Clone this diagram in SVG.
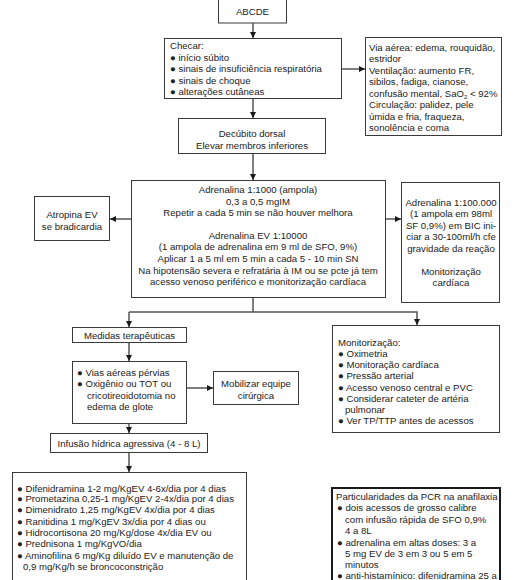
<svg xmlns="http://www.w3.org/2000/svg" width="520" height="580" viewBox="0 0 520 580">
<defs>
<marker id="ah" viewBox="0 0 10 10" refX="10" refY="5" markerWidth="6" markerHeight="6" markerUnits="userSpaceOnUse" orient="auto">
<path d="M0,0 L10,5 L0,10 z" fill="#1a1a1a"/>
</marker>
<style>
.box{fill:#fff;stroke:#3a3a3a;stroke-width:1}
.bold{fill:#fff;stroke:#1a1a1a;stroke-width:2}
text{font-family:"Liberation Sans",Arial,sans-serif;font-size:9.6px;fill:#222}
.c{text-anchor:middle}
.ln{fill:none;stroke:#555;stroke-width:1.5}
</style>
</defs>
<rect width="520" height="580" fill="#fff"/>

<g id="connectors">
<line class="ln" x1="253" y1="23" x2="253" y2="38" marker-end="url(#ah)"/>
<line class="ln" x1="342" y1="69" x2="365" y2="69" marker-end="url(#ah)"/>
<line class="ln" x1="253" y1="99" x2="253" y2="118" marker-end="url(#ah)"/>
<line class="ln" x1="253" y1="154" x2="253" y2="180" marker-end="url(#ah)"/>
<line class="ln" x1="131" y1="219" x2="110" y2="219" marker-end="url(#ah)"/>
<line class="ln" x1="386" y1="219" x2="401" y2="219" marker-end="url(#ah)"/>
<line class="ln" x1="253" y1="298" x2="253" y2="312"/>
<polyline class="ln" points="129,312 417,312 417,325" marker-end="url(#ah)"/>
<line class="ln" x1="129" y1="312" x2="129" y2="327" marker-end="url(#ah)"/>
<line class="ln" x1="129" y1="343" x2="129" y2="361" marker-end="url(#ah)"/>
<line class="ln" x1="187" y1="388" x2="213" y2="388" marker-end="url(#ah)"/>
<line class="ln" x1="129" y1="424" x2="129" y2="433" marker-end="url(#ah)"/>
<line class="ln" x1="129" y1="453" x2="129" y2="472" marker-end="url(#ah)"/>
</g>

<g id="abcde">
<rect class="box" x="218.500" y="-1" width="68" height="24"/>
<text class="c" x="252.500" y="15">ABCDE</text>
</g>

<g id="checar">
<rect class="box" x="164.500" y="38.500" width="177" height="60"/>
<text x="170" y="48.500">Checar:</text>
<text x="170" y="60.500">● início súbito</text>
<text x="170" y="72">● sinais de insuficiência respiratória</text>
<text x="170" y="83.500">● sinais de choque</text>
<text x="170" y="95">● alterações cutâneas</text>
</g>

<g id="sinais">
<rect class="box" x="365.500" y="37.500" width="136" height="98"/>
<text x="369" y="50.500">Via aérea: edema, rouquidão,</text>
<text x="369" y="62">estridor</text>
<text x="369" y="73.500">Ventilação: aumento FR,</text>
<text x="369" y="85">sibilos, fadiga, cianose,</text>
<text x="369" y="96.500">confusão mental, SaO<tspan font-size="6" dy="2">2</tspan><tspan dy="-2"> &lt; 92%</tspan></text>
<text x="369" y="108">Circulação: palidez, pele</text>
<text x="369" y="119.500">úmida e fria, fraqueza,</text>
<text x="369" y="131">sonolência e coma</text>
</g>

<g id="decubito">
<rect class="box" x="178.500" y="118.500" width="147" height="35"/>
<text class="c" x="252" y="137">Decúbito dorsal</text>
<text class="c" x="252" y="149">Elevar membros inferiores</text>
</g>

<g id="adrenalina">
<rect class="box" x="131.500" y="180.500" width="254" height="117"/>
<text class="c" x="258" y="193">Adrenalina 1:1000 (ampola)</text>
<text class="c" x="258" y="205">0,3 a 0,5 mgIM</text>
<text class="c" x="258" y="216">Repetir a cada 5 min se não houver melhora</text>
<text class="c" x="258" y="238.500">Adrenalina EV 1:10000</text>
<text class="c" x="258" y="250">(1 ampola de adrenalina em 9 ml de SFO, 9%)</text>
<text class="c" x="258" y="262">Aplicar 1 a 5 ml em 5 min a cada 5 - 10 min SN</text>
<text class="c" x="258" y="273.500">Na hipotensão severa e refratária à IM ou se pcte já tem</text>
<text class="c" x="258" y="285">acesso venoso periférico e monitorização cardíaca</text>
</g>

<g id="atropina">
<rect class="box" x="34.500" y="196.500" width="75" height="44"/>
<text class="c" x="72" y="217.500">Atropina EV</text>
<text class="c" x="72" y="229.500">se bradicardia</text>
</g>

<g id="adrenalina100">
<rect class="box" x="401.500" y="182.500" width="98" height="120"/>
<text class="c" x="451" y="205.500">Adrenalina 1:100.000</text>
<text class="c" x="451" y="217">(1 ampola em 98ml</text>
<text class="c" x="451" y="228.500">SF 0,9%) em BIC ini-</text>
<text class="c" x="451" y="240">ciar a 30-100ml/h cfe</text>
<text class="c" x="451" y="251.500">gravidade da reação</text>
<text class="c" x="451" y="274.500">Monitorização</text>
<text class="c" x="451" y="286">cardíaca</text>
</g>

<g id="medidas">
<rect class="box" x="72.500" y="327.500" width="114" height="15"/>
<text class="c" x="129.500" y="338.500">Medidas terapêuticas</text>
</g>

<g id="vias">
<rect class="box" x="72.500" y="361.500" width="114" height="62"/>
<text x="77" y="375.500">● Vias aéreas pérvias</text>
<text x="77" y="387">● Oxigênio ou TOT ou</text>
<text x="87" y="398.500">cricotireoidotomia no</text>
<text x="87" y="410">edema de glote</text>
</g>

<g id="mobilizar">
<rect class="box" x="213.500" y="371.500" width="85" height="33"/>
<text class="c" x="256" y="386.500">Mobilizar equipe</text>
<text class="c" x="256" y="398.500">cirúrgica</text>
</g>

<g id="infusao">
<rect class="box" x="50.500" y="433.500" width="157" height="19"/>
<text class="c" x="129" y="446.500">Infusão hídrica agressiva (4 - 8 L)</text>
</g>

<g id="medicamentos">
<rect class="box" x="12.500" y="472.500" width="234" height="120"/>
<text x="17" y="491.500">● Difenidramina 1-2 mg/KgEV 4-6x/dia por 4 dias</text>
<text x="17" y="502">● Prometazina 0,25-1 mg/KgEV 2-4x/dia por 4 dias</text>
<text x="17" y="513">● Dimenidrato 1,25 mg/KgEV 4x/dia por 4 dias</text>
<text x="17" y="524.500">● Ranitidina 1 mg/KgEV 3x/dia por 4 dias ou</text>
<text x="17" y="535.500">● Hidrocortisona 20 mg/Kg/dose 4x/dia EV ou</text>
<text x="17" y="547">● Prednisona 1 mg/KgVO/dia</text>
<text x="17" y="558.500">● Aminofilina 6 mg/Kg diluído EV e manutenção de</text>
<text x="23" y="570">0,9 mg/Kg/h se broncoconstrição</text>
</g>

<g id="monitorizacao">
<rect class="box" x="332.500" y="325.500" width="167" height="107"/>
<text x="338" y="345.500">Monitorização:</text>
<text x="338" y="356.500">● Oximetria</text>
<text x="338" y="367.500">● Monitoração cardíaca</text>
<text x="338" y="378.500">● Pressão arterial</text>
<text x="338" y="390.500">● Acesso venoso central e PVC</text>
<text x="338" y="401.500">● Considerar cateter de artéria</text>
<text x="345" y="412.500">pulmonar</text>
<text x="338" y="423.500">● Ver TP/TTP antes de acessos</text>
</g>

<g id="pcr">
<rect class="bold" x="332" y="488" width="168" height="110"/>
<text x="336" y="500">Particularidades da PCR na anafilaxia</text>
<text x="337" y="511">● dois acessos de grosso calibre</text>
<text x="345" y="522.500">com infusão rápida de SFO 0,9%</text>
<text x="345" y="534">4 a 8L</text>
<text x="337" y="545.500">● adrenalina em altas doses: 3 a</text>
<text x="345" y="557">5 mg EV de 3 em 3 ou 5 em 5</text>
<text x="345" y="568">minutos</text>
<text x="337" y="578.500">● anti-histamínico: difenidramina 25 a</text>
</g>
</svg>
